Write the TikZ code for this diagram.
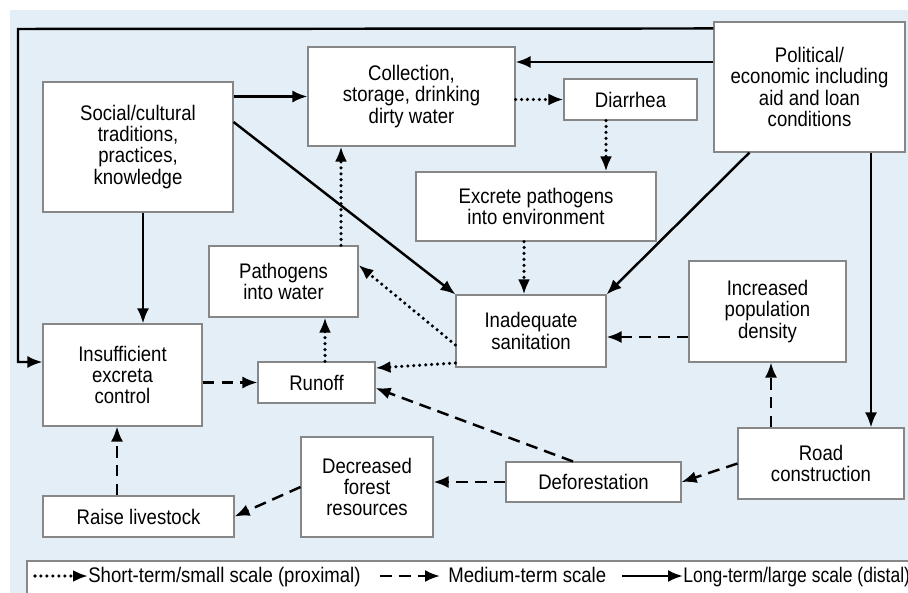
\documentclass[tikz,border=0pt]{standalone}
\usepackage{fontspec}
\setmainfont{Liberation Sans}[FakeStretch=0.88]
\newfontfamily\narrowfont{Liberation Sans}[FakeStretch=0.83]
\usetikzlibrary{arrows.meta}
\definecolor{bgblue}{RGB}{228,238,246}
\definecolor{boxgray}{RGB}{135,135,135}

\begin{document}
\begin{tikzpicture}[x=0.2mm,y=-0.2mm,>={Latex[length=3mm,width=2.4mm]},
        txt/.style={font=\fontsize{12}{12}\selectfont},
        box/.style={txt,draw=boxgray,fill=white,line width=.6pt,align=center,inner sep=0pt},
        prox/.style={->,line width=2pt,line cap=round,dash pattern=on 0pt off 3.4pt},
        mid/.style={->,line width=1.4pt,dash pattern=on 6.8pt off 4pt},
        dist/.style={->,line width=1.4pt}]
        \useasboundingbox (0,0) rectangle (908,593);
        \fill[white] (0,0) rectangle (908,593);
        \fill[bgblue] (10,10) rectangle (908,593);
        % boxes
        \node[box,minimum width=38mm,minimum height=26mm] (social) at (138,147) {Social/cultural\\traditions,\\practices,\\knowledge};
        \node[box,minimum width=41.4mm,minimum height=19.8mm] (collect) at (411.5,96.5) {Collection,\\storage, drinking\\dirty water};
        \node[box,minimum width=26.6mm,minimum height=8.2mm] (diarrhea) at (630.5,99.5) {Diarrhea};
        \node[box,minimum width=38.2mm,minimum height=26mm] (political) at (809.5,87) {Political/\\economic including\\aid and loan\\conditions};
        \node[box,minimum width=48mm,minimum height=13.8mm] (excrete) at (536,206.5) {Excrete pathogens\\into environment};
        \node[box,minimum width=29.8mm,minimum height=14.2mm] (pathwater) at (283.5,281.5) {Pathogens\\into water};
        \node[box,minimum width=30mm,minimum height=14.4mm] (sanitation) at (531,331) {Inadequate\\sanitation};
        \node[box,minimum width=31.4mm,minimum height=20.2mm] (popdens) at (767.5,311.5) {Increased\\population\\density};
        \node[box,minimum width=31.8mm,minimum height=20.4mm] (excreta) at (122.5,375) {Insufficient\\excreta\\control};
        \node[box,minimum width=23.4mm,minimum height=8.2mm] (runoff) at (316.5,382.5) {Runoff};
        \node[box,minimum width=26.4mm,minimum height=20mm] (forest) at (367,487) {Decreased\\forest\\resources};
        \node[box,minimum width=38.2mm,minimum height=8.2mm] (livestock) at (138.5,516.5) {Raise livestock};
        \node[box,minimum width=35mm,minimum height=8mm] (deforest) at (593.5,482) {Deforestation};
        \node[box,minimum width=33.2mm,minimum height=14.2mm] (road) at (821,463.5) {Road\\construction};
        \coordinate (frame) at (18,29);
        % long-term
        \draw[dist] (social.east |- collect.west) -- (collect.west);
        \draw[dist] ([yshift=5mm]social.east) -- (sanitation.north west);
        \draw[dist] ([xshift=1mm]social.south) -- ([xshift=1mm]social.south |- excreta.north);
        \draw[dist] ([yshift=-1.4mm]political.north west) -- (frame) |- ([yshift=2.6mm]excreta.west);
        \draw[dist] ([yshift=5mm]political.west) -- ([yshift=5mm]political.west -| collect.east);
        \draw[dist] ([xshift=-12mm]political.south) -- (sanitation.north east);
        \draw[dist] ([xshift=12.3mm]political.south) -- ([xshift=12.3mm]political.south |- road.north);
        % short-term
        \draw[prox] (collect.east |- diarrhea.west) -- (diarrhea.west);
        \draw[prox] ([xshift=-4.9mm]diarrhea.south) -- ([xshift=-4.9mm]diarrhea.south |- excrete.north);
        \draw[prox] ([xshift=-2.4mm]excrete.south) -- ([xshift=-2.4mm]excrete.south |- sanitation.north);
        \draw[prox] ([xshift=11.5mm]pathwater.north) -- ([xshift=11.5mm]pathwater.north |- collect.south);
        \draw[prox] ([yshift=-2.8mm]sanitation.west) -- ([yshift=3.3mm]pathwater.east);
        \draw[prox] ([yshift=-6.4mm]sanitation.west) -- ([yshift=2.9mm]runoff.east);
        \draw[prox] ([xshift=1.7mm]runoff.north) -- ([xshift=1.7mm]runoff.north |- pathwater.south);
        % medium-term
        \draw[mid] (excreta.east |- runoff.west) -- (runoff.west);
        \draw[mid] ([xshift=-4.1mm]deforest.north) -- ([yshift=-1.1mm]runoff.east);
        \draw[mid] ([yshift=-5.1mm]popdens.west) -- ([yshift=-5.1mm]popdens.west -| sanitation.east);
        \draw[mid] ([xshift=-10mm]road.north) -- ([xshift=-10mm]road.north |- popdens.south);
        \draw[mid] (road.west) -- (deforest.east);
        \draw[mid] (deforest.west) -- (deforest.west -| forest.east);
        \draw[mid] (forest.west) -- (livestock.east);
        \draw[mid] ([xshift=-4.3mm]livestock.north) -- ([xshift=-4.3mm]livestock.north |- excreta.south);
        % legend
        \draw[boxgray,fill=white,line width=.6pt] (27,561) rectangle (912,595);
        \coordinate (k1) at (35,576);
        \coordinate (k2) at (380,576);
        \coordinate (k3) at (622,576);
        \node[txt,anchor=base west,inner sep=0pt] (ktext1) at (88,582) {Short-term/small scale (proximal)};
        \node[txt,anchor=base west,inner sep=0pt] (ktext2) at (448,582) {Medium-term scale};
        \node[txt,anchor=base west,inner sep=0pt] (ktext3) at (683,582) {\narrowfont Long-term/large scale (distal)};
        \draw[prox] (k1) -- (k1 -| ktext1.west);
        \draw[mid] (k2) -- ([xshift=-1.6mm]k2 -| ktext2.west);
        \draw[dist] (k3) -- (k3 -| ktext3.west);
    \end{tikzpicture}
\end{document}
